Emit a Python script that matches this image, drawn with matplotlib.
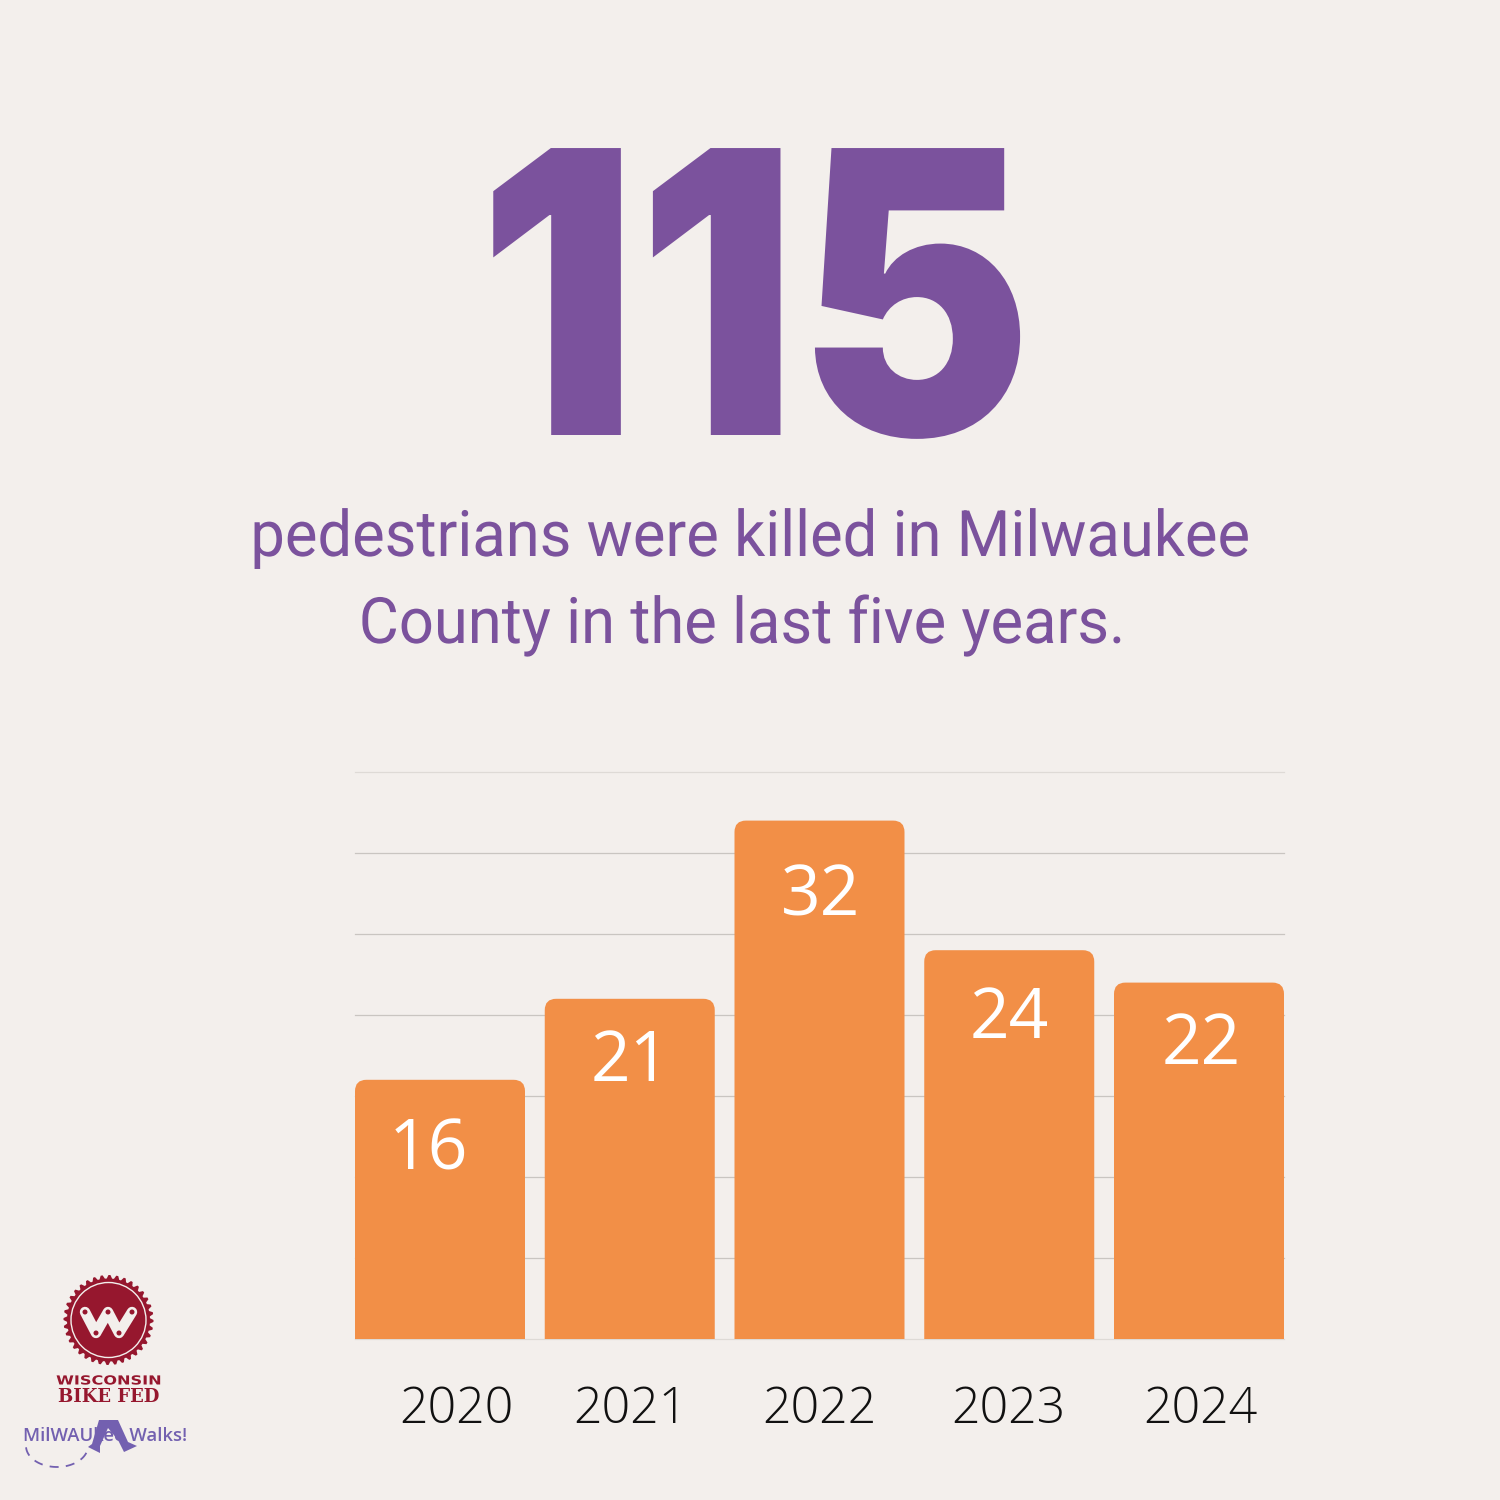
import numpy as np
import matplotlib
matplotlib.use("Agg")
import matplotlib.pyplot as plt
from matplotlib.patches import FancyBboxPatch, Circle, Polygon
from matplotlib.patheffects import AbstractPathEffect
from matplotlib.transforms import Affine2D

# chart values
years = ["2020", "2021", "2022", "2023", "2024"]
deaths = [16, 21, 32, 24, 22]
grid_values = [0, 5, 10, 15, 20, 25, 30, 35]

headline = "115"
sub_line1 = "pedestrians were killed in Milwaukee"
sub_line2 = "County in the last five years."

BG = "#f3efec"
PURPLE = "#7b529d"
ORANGE = "#f28f47"
RED = "#96172e"
LOGO_PURPLE = "#7360b0"


# narrows or widens drawn text around a pixel column, no condensed fonts installed
class Squeeze(AbstractPathEffect):
    def __init__(self, sx, cx):
        super().__init__()
        self.sx = sx
        self.cx = cx

    def draw_path(self, renderer, gc, tpath, affine, rgbFace=None):
        squeeze = Affine2D().translate(-self.cx, 0).scale(self.sx, 1).translate(self.cx, 0)
        renderer.draw_path(gc, tpath, affine + squeeze, rgbFace)


fig = plt.figure(figsize=(15, 15), dpi=100, facecolor=BG)

# overlay in pixel coordinates for the text block and logos
page = fig.add_axes([0, 0, 1, 1])
page.set_xlim(0, 1500)
page.set_ylim(1500, 0)
page.axis("off")

page.text(755, 435, headline, color=PURPLE, fontsize=284, fontfamily="Inter",
          fontweight="black", ha="center", va="baseline",
          path_effects=[Squeeze(0.895, 755)])
page.text(750, 556, sub_line1, color=PURPLE, fontsize=46, fontfamily="Roboto",
          ha="center", va="baseline", path_effects=[Squeeze(0.962, 750)])
page.text(742, 643, sub_line2, color=PURPLE, fontsize=46, fontfamily="Roboto",
          ha="center", va="baseline", path_effects=[Squeeze(0.962, 742)])

# chart
ax = fig.add_axes([355 / 1500, 1 - 1339 / 1500, 929 / 1500, 567 / 1500])
ax.patch.set_alpha(0)
bar_w = 170 / 189.75
ax.set_xlim(-bar_w / 2, 4 + bar_w / 2)
ax.set_ylim(0, 35)
ax.axis("off")

for g in grid_values:
    c = "#dedad6" if g in (0, 35) else "#c9c5c1"
    ax.plot([-bar_w / 2, 4 + bar_w / 2], [g, g], color=c, lw=0.9, zorder=1, clip_on=False)

for i, v in enumerate(deaths):
    # extends below zero so only the top corners show rounded
    bar = FancyBboxPatch((i - bar_w / 2, -3), bar_w, v + 3,
                         boxstyle="round,pad=0,rounding_size=0.06",
                         mutation_aspect=11.7, fc=ORANGE, ec="none", zorder=2)
    ax.add_patch(bar)

value_dx = [-12, 1, 1, 0, 2]
value_dy = [-72, -64, -77, -70, -63]
tick_dx = [16, 1, 0, -1, 1]
for i, v in enumerate(deaths):
    ax.annotate(str(v), (i, v), xytext=(value_dx[i], value_dy[i]), textcoords="offset pixels",
                color="white", fontsize=50, fontfamily="Open Sans",
                ha="center", va="center", zorder=3)
    ax.annotate(years[i], (i, 0), xytext=(tick_dx[i], -71), textcoords="offset pixels",
                color="#111111", fontsize=36, fontfamily="Open Sans", fontweight="light",
                ha="center", va="center", annotation_clip=False)

# Bike Fed logo
cx, cy = 108.5, 1320
teeth = 36
ang = np.linspace(0, 2 * np.pi, teeth * 4, endpoint=False)
rad = np.tile([45, 45, 41.5, 41.5], teeth)
page.add_patch(Polygon(np.c_[cx + rad * np.cos(ang), cy + rad * np.sin(ang)], fc=RED, ec="none"))
page.add_patch(Circle((cx, cy), 37.5, fc="none", ec=BG, lw=1.0))
link = [(85, 1312), (96, 1333), (108, 1312), (119, 1333), (132, 1312)]
page.plot(*zip(*link), color=BG, lw=7.5, solid_capstyle="round", solid_joinstyle="round")
for hx, hy in link:
    page.add_patch(Circle((hx, hy), 2.5, fc=RED, ec="none", zorder=5))
page.text(108.5, 1381, "WISCONSIN", color=RED, fontsize=9, fontfamily="DejaVu Sans",
          fontweight="bold", ha="center", va="center", path_effects=[Squeeze(1.29, 108.5)])
page.text(108.5, 1397, "BIKE FED", color=RED, fontsize=13, fontfamily="DejaVu Serif",
          fontweight="bold", ha="center", va="center")

# Milwaukee Walks logo
page.add_patch(Polygon([(92, 1444), (99, 1420), (118, 1420), (128, 1442), (137, 1446), (124, 1452),
                        (118, 1440), (108, 1428), (100, 1446), (100, 1453), (88, 1447)],
                       fc=LOGO_PURPLE, ec="none"))
page.text(105, 1436, "MilWAUkee Walks!", color=LOGO_PURPLE, fontsize=13.3, fontfamily="Open Sans",
          fontweight="semibold", ha="center", va="center")
t = np.linspace(0.02, 0.98, 40) * np.pi
page.plot(57 - 31 * np.cos(t), 1446 + 21 * np.sin(t), color=LOGO_PURPLE, lw=1.3, ls=(0, (5, 4)))

fig.savefig("out.png", dpi=100, facecolor=BG)
